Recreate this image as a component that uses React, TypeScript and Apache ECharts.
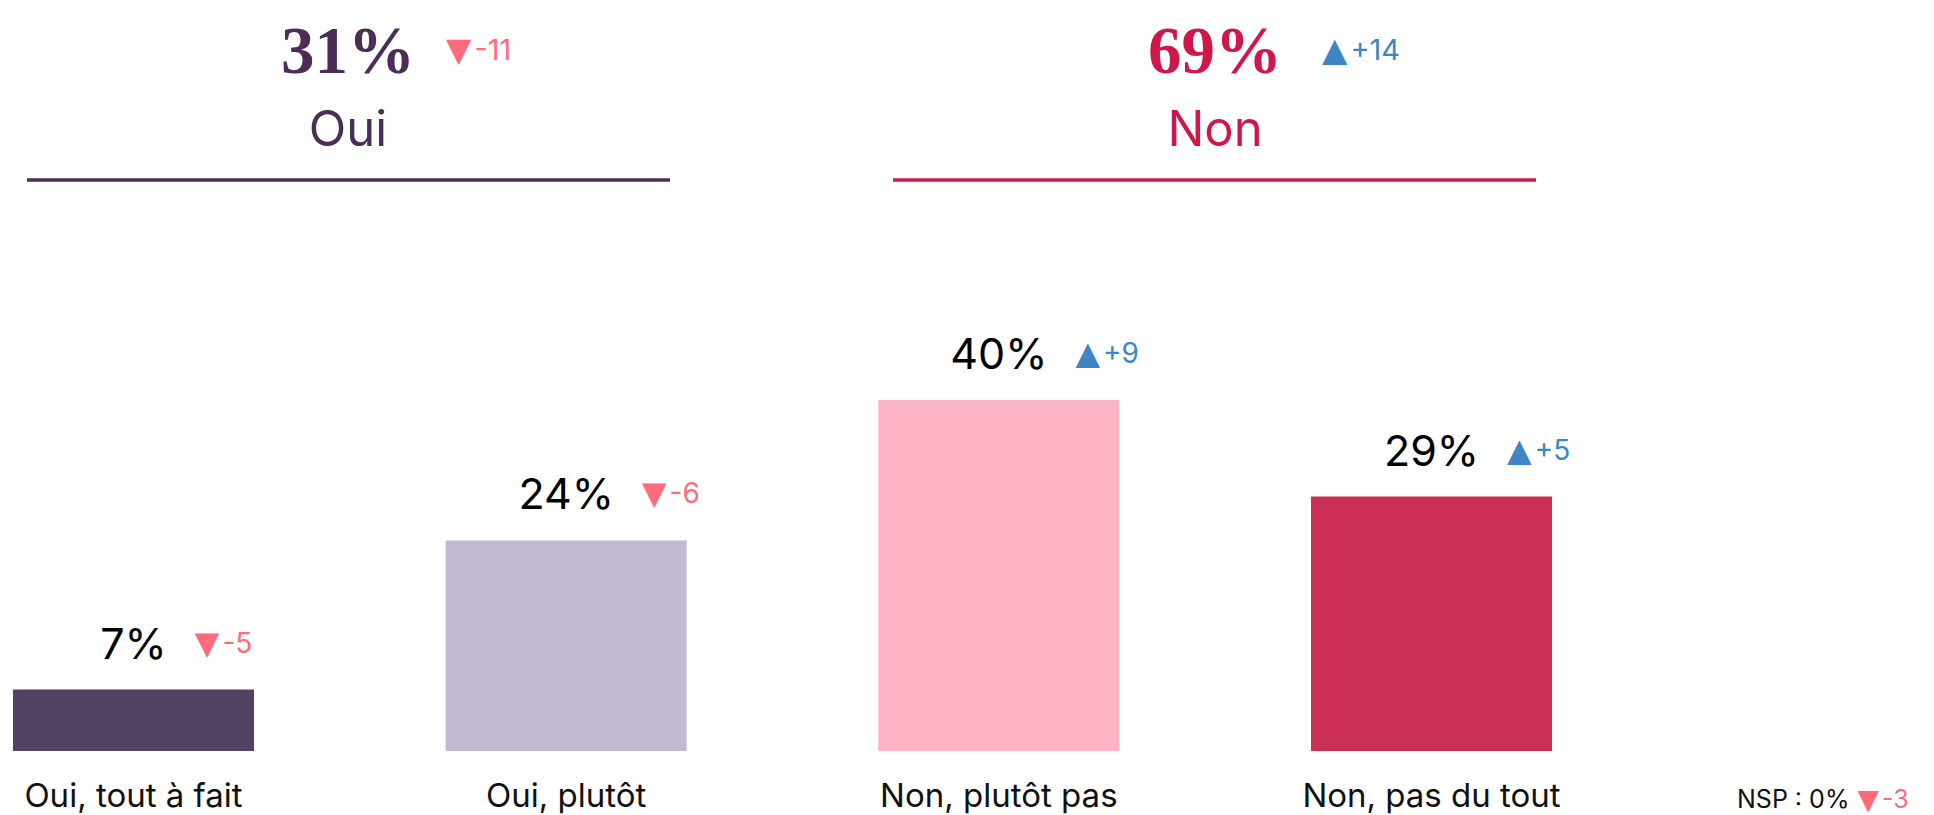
import React, { useEffect, useRef } from 'react';
import * as echarts from 'echarts';

// ---- data ----
const categories = ['Oui, tout à fait', 'Oui, plutôt', 'Non, plutôt pas', 'Non, pas du tout'];
const values = [7, 24, 40, 29];
const deltas = [-5, -6, 9, 5];
const barColors = ['#514263', '#C3B9D1', '#FDB4C4', '#CB2F56'];

const groupLabels = ['Oui', 'Non'];
const groupValues = [31, 69];
const groupDeltas = [-11, 14];
const groupColors = ['#4B2E56', '#D0174A'];

const nspLabel = 'NSP';
const nspValue = 0;
const nspDelta = -3;

// ---- styles ----
const SANS = 'Inter, "Noto Sans", sans-serif';
const SERIF = '"Liberation Serif", "DejaVu Serif", serif';
const TRI = '"DejaVu Sans", sans-serif';
const UP = '#3D85C6';
const DOWN = '#FF6B7A';

function measure(text: string, font: string): number {
  const ctx = document.createElement('canvas').getContext('2d');
  if (!ctx) return text.length * 20;
  ctx.font = font;
  return ctx.measureText(text).width;
}

function deltaText(d: number): string {
  return d < 0 ? `{dt|▼}{dx|-${Math.abs(d)}}` : `{ut|▲}{ux|+${d}}`;
}

function deltaRich(size: number, triSize: number, lh: number) {
  return {
    dt: { fontFamily: TRI, fontSize: triSize, color: DOWN, fill: DOWN, lineHeight: lh, padding: [0, 3, 0, 0] },
    dx: { fontFamily: SANS, fontSize: size, color: DOWN, fill: DOWN, lineHeight: lh },
    ut: { fontFamily: TRI, fontSize: triSize, color: UP, fill: UP, lineHeight: lh, padding: [0, 3, 0, 0] },
    ux: { fontFamily: SANS, fontSize: size, color: UP, fill: UP, lineHeight: lh },
    b: { fontFamily: SANS, fontSize: size, color: '#111', fill: '#111', lineHeight: lh, padding: [0, 8, 0, 0] },
  };
}

export default function App() {
  const ref = useRef<HTMLDivElement>(null);

  useEffect(() => {
    document.body.style.margin = '0';
    if (!ref.current) return;
    const chart = echarts.init(ref.current, undefined, { renderer: 'svg' });

    const VALUE_FONT = 43;
    const valueFont = `${VALUE_FONT}px Inter`;
    const gap = 28;

    const graphics: any[] = [];
    const headerCenters = [348, 1215];
    const lineSpans = [[27, 670], [893, 1536]];
    const deltaX = [446, 1322];
    groupLabels.forEach((lab, i) => {
      graphics.push({
        type: 'text', x: headerCenters[i], y: 50,
        style: { text: `${groupValues[i]}%`, fill: groupColors[i], font: `bold 67px ${SERIF}`, align: 'center', verticalAlign: 'middle' },
      });
      graphics.push({
        type: 'text', x: deltaX[i], y: 49,
        style: { text: deltaText(groupDeltas[i]), rich: deltaRich(29, 33, 36), align: 'left', verticalAlign: 'middle' },
      });
      graphics.push({
        type: 'text', x: headerCenters[i], y: 128,
        style: { text: lab, fill: groupColors[i], font: `49px ${SANS}`, align: 'center', verticalAlign: 'middle' },
      });
      graphics.push({
        type: 'line',
        shape: { x1: lineSpans[i][0], y1: 180, x2: lineSpans[i][1], y2: 180 },
        style: { stroke: groupColors[i], lineWidth: 3.5 },
      });
    });
    graphics.push({
      type: 'text', x: 1737, y: 799,
      style: { text: `{b|${nspLabel} : ${nspValue}%}${deltaText(nspDelta)}`, rich: deltaRich(25, 28, 26), align: 'left', verticalAlign: 'middle' },
    });

    chart.setOption({
      animation: false,
      grid: { left: 133.5, right: 502.5, top: 400, bottom: 64, containLabel: false },
      xAxis: {
        type: 'category',
        data: categories,
        boundaryGap: false,
        axisLine: { show: false },
        axisTick: { show: false },
        splitLine: { show: false },
        axisLabel: { fontFamily: SANS, fontSize: 33, color: '#111', margin: 28, lineHeight: 32 },
      },
      yAxis: { type: 'value', min: 0, max: 40, show: false, splitLine: { show: false } },
      series: [
        {
          type: 'bar',
          barWidth: 241,
          clip: false,
          data: values.map((v, i) => ({ value: v, itemStyle: { color: barColors[i] } })),
          label: {
            show: true,
            position: 'top',
            distance: 26,
            formatter: '{c}%',
            fontFamily: SANS,
            fontSize: VALUE_FONT,
            lineHeight: 42,
            color: '#000',
          },
          silent: true,
        },
        {
          type: 'bar',
          barWidth: 241,
          barGap: '-100%',
          clip: false,
          data: values.map((v, i) => ({
            value: v,
            label: { offset: [measure(`${v}%`, valueFont) / 2 + gap, 0] },
          })),
          itemStyle: { color: 'rgba(0,0,0,0)' },
          label: {
            show: true,
            position: 'top',
            distance: 26,
            align: 'left',
            formatter: (p: any) => deltaText(deltas[p.dataIndex]),
            rich: deltaRich(28, 32, 42),
            lineHeight: 42,
          },
          silent: true,
          z: 3,
        },
      ],
      graphic: graphics,
    });

    return () => chart.dispose();
  }, []);

  return <div ref={ref} style={{ width: 1934, height: 815 }} />;
}
